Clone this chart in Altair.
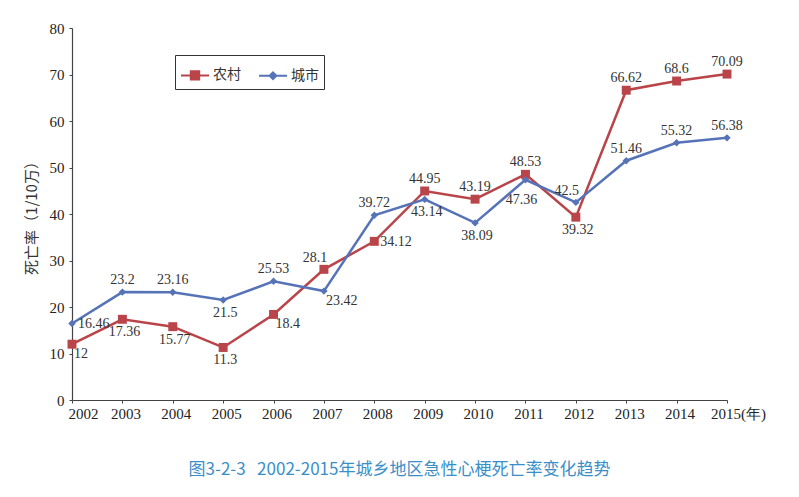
import altair as alt
import pandas as pd

years = [2002, 2003, 2004, 2005, 2006, 2007, 2008, 2009, 2010, 2011, 2012, 2013, 2014, 2015]
rural = [12, 17.36, 15.77, 11.3, 18.4, 28.1, 34.12, 44.95, 43.19, 48.53, 39.32, 66.62, 68.6, 70.09]
urban = [16.46, 23.2, 23.16, 21.5, 25.53, 23.42, 39.72, 43.14, 38.09, 47.36, 42.5, 51.46, 55.32, 56.38]
series_names = ["农村", "城市"]

# label placement for each point
rural_pos = ["rightbelow", "below", "below", "below", "rightbelow", "aboveleft", "right",
             "above", "above", "above", "below", "above", "above", "above"]
urban_pos = ["right", "above", "above", "below", "above", "rightbelow", "above",
             "below", "below", "farbelow", "aboveleft", "above", "above", "above"]

RED = "#B94449"
BLUE = "#5673B8"
SERIF = "Liberation Serif"
CJK = "Noto Sans CJK SC"

rows = []
for name, vals, pos in [("农村", rural, rural_pos), ("城市", urban, urban_pos)]:
    for y, v, p in zip(years, vals, pos):
        rows.append({"year": y, "value": v, "series": name, "label": str(v), "pos": p})
df = pd.DataFrame(rows)

x_enc = alt.X("year:Q", scale=alt.Scale(domain=[2002, 2015], nice=False, zero=False),
              axis=alt.Axis(values=years, format="d", title=None,
                            labelExpr="datum.value == 2015 ? '2015(年)' : datum.label",
                            labelFont=SERIF, labelFontSize=15, labelColor="#222",
                            labelOverlap=False, labelBound=False, labelFlush=False,
                            labelPadding=3, tickSize=3,
                            labelOffset={"condition": {"test": "datum.value == 2015 || datum.value == 2002",
                                                       "value": 11}, "value": 3}))
y_enc = alt.Y("value:Q", scale=alt.Scale(domain=[0, 80], nice=False),
              axis=alt.Axis(values=[0, 10, 20, 30, 40, 50, 60, 70, 80], title="死亡率（1/10万）",
                            titleFont=CJK, titleFontSize=15, titleFontWeight="normal",
                            titleColor="#333", titlePadding=10,
                            labelFont=SERIF, labelFontSize=15, labelColor="#222",
                            labelOverlap=False, tickSize=3, labelPadding=5))

is_rural = alt.datum.series == "农村"
base = alt.Chart(df)

lines = base.mark_line(strokeWidth=2.5).encode(
    x=x_enc, y=y_enc, detail="series:N",
    color=alt.condition(is_rural, alt.value(RED), alt.value(BLUE)),
)
points = base.mark_point(filled=True, opacity=1).encode(
    x=x_enc, y=y_enc,
    color=alt.condition(is_rural, alt.value(RED), alt.value(BLUE)),
    shape=alt.condition(is_rural, alt.value("square"), alt.value("diamond")),
    size=alt.condition(is_rural, alt.value(80), alt.value(55)),
)

placements = {
    "above": dict(align="center", dx=0, dy=-12),
    "below": dict(align="center", dx=2, dy=13),
    "right": dict(align="left", dx=6, dy=1),
    "rightbelow": dict(align="left", dx=2, dy=10),
    "aboveleft": dict(align="center", dx=-9, dy=-11),
    "farbelow": dict(align="center", dx=-4, dy=20),
}
label_layers = []
for key, opts in placements.items():
    label_layers.append(
        base.transform_filter(alt.datum.pos == key).mark_text(
            font=SERIF, fontSize=14, color="#333", baseline="middle", **opts
        ).encode(x=x_enc, y=y_enc, text="label:N")
    )

legend_def = alt.Legend(title=None, orient="none", legendX=103, legendY=27,
                        direction="horizontal", strokeColor="#333", padding=5,
                        labelFont=CJK, labelFontSize=14, labelColor="#333",
                        symbolSize=784, symbolStrokeWidth=2, columnPadding=14,
                        labelOffset=3, cornerRadius=0)
color_scale = alt.Scale(domain=series_names, range=[RED, BLUE])
legend_layer = alt.Chart(df).transform_filter("false").mark_point(filled=False, opacity=1).encode(
    stroke=alt.Stroke("series:N", scale=color_scale, legend=legend_def),
    fill=alt.Fill("series:N", scale=color_scale, legend=legend_def),
    shape=alt.Shape("series:N", scale=alt.Scale(
        domain=series_names,
        range=["M-1,0H1M-0.3,-0.3H0.3V0.3H-0.3Z", "M-1,0H1M0,-0.24L0.24,0L0,0.24L-0.24,0Z"]),
        legend=legend_def),
)

chart = alt.layer(lines, points, *label_layers, legend_layer).properties(
    width=655, height=372,
    padding={"left": 64, "top": 20, "right": 64, "bottom": 89},
    autosize="none",
    title=alt.Title("图3-2-3\u00a0\u00a0\u00a02002-2015年城乡地区急性心梗死亡率变化趋势", orient="bottom",
                    offset=41, font=CJK, fontSize=17, fontWeight="normal",
                    color="#3A8FC8", anchor="middle"),
).configure_view(stroke=None).configure_axis(
    grid=False, domainColor="#444", tickColor="#444", domainWidth=1.2
)

chart.save("out.html", embed_options={"renderer": "svg", "actions": False})
